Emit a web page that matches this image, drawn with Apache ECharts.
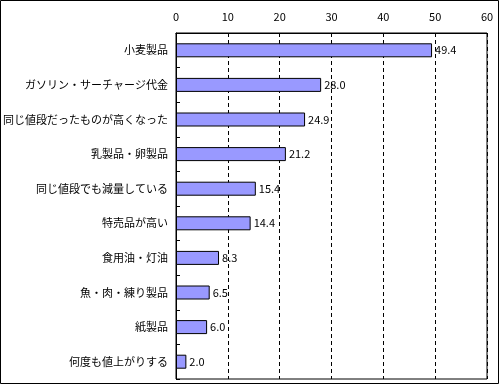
<!DOCTYPE html>
<html><head><meta charset="utf-8">
<script src="https://cdn.jsdelivr.net/npm/echarts@6/dist/echarts.min.js"></script>
<style>html,body{margin:0;padding:0;background:#fff}#c{width:500px;height:385px}</style>
</head><body><div id="c"></div>
<script>
const categories = ['小麦製品','ガソリン・サーチャージ代金','同じ値段だったものが高くなった','乳製品・卵製品','同じ値段でも減量している','特売品が高い','食用油・灯油','魚・肉・練り製品','紙製品','何度も値上がりする'];
const values = [49.4, 28.0, 24.9, 21.2, 15.4, 14.4, 8.3, 6.5, 6.0, 2.0];
const xTicks = [0, 60, 10];
const font = '"Noto Sans CJK JP", sans-serif';
const chart = echarts.init(document.getElementById('c'));
chart.setOption({
  animation: false,
  textStyle: {fontFamily: font},
  grid: {left: 176, right: 13, top: 33, bottom: 6, containLabel: false, outerBoundsMode: 'none', show: true, borderColor: '#000', borderWidth: 1, backgroundColor: 'transparent'},
  graphic: [{type: 'rect', shape: {x: 0.5, y: 0.5, width: 498, height: 383}, style: {fill: 'none', stroke: '#000', lineWidth: 1}}],
  xAxis: {type: 'value', position: 'top', min: xTicks[0], max: xTicks[1], interval: xTicks[2],
    axisLine: {show: true, lineStyle: {color: '#000'}}, axisTick: {show: false},
    axisLabel: {color: '#000', fontSize: 11, margin: 11, fontFamily: font},
    splitLine: {show: true, lineStyle: {color: '#000', type: [4, 3], width: 1}}},
  yAxis: {type: 'category', data: categories, inverse: true,
    axisLine: {show: true, lineStyle: {color: '#000'}},
    axisTick: {show: true, inside: true, length: 4, lineStyle: {color: '#000'}},
    axisLabel: {color: '#000', fontSize: 11, margin: 8, fontFamily: font}},
  series: [{type: 'bar', data: values, barWidth: 14,
    itemStyle: {color: '#9999FF', borderColor: '#000', borderWidth: 1},
    label: {show: true, position: 'right', distance: 3, color: '#000', fontSize: 11, fontFamily: font,
      formatter: p => p.value.toFixed(1)}}]
});
</script></body></html>
